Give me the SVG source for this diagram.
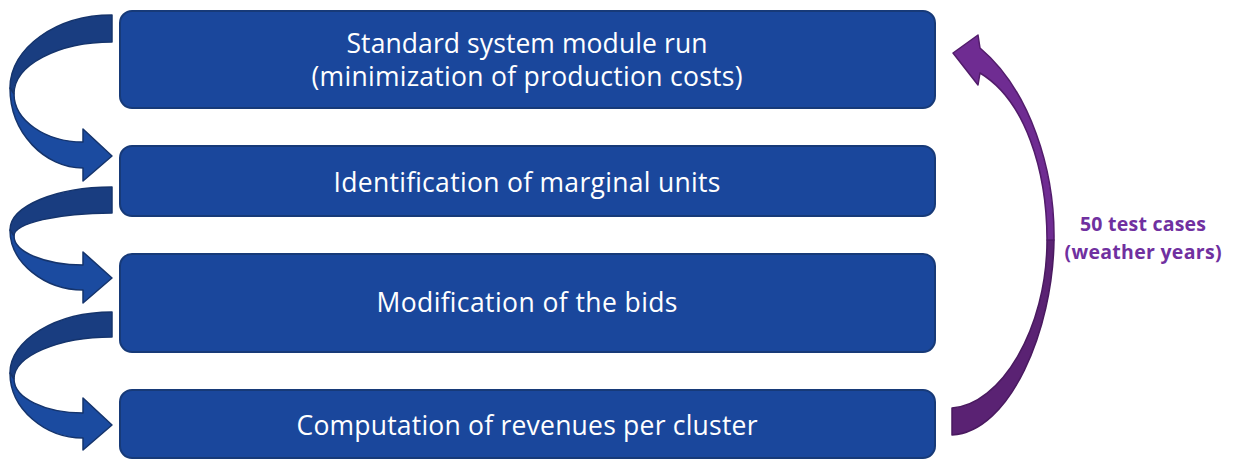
<svg xmlns="http://www.w3.org/2000/svg" width="1233" height="460" viewBox="0 0 1233 460">
<style>
.box{fill:#1a479c;stroke:#173a78;stroke-width:2}
.lbl{font-family:"Open Sans","Liberation Sans",sans-serif;font-size:26.5px;fill:#ffffff;text-anchor:middle}
.side{font-family:"Open Sans","Liberation Sans",sans-serif;font-size:19.5px;font-weight:bold;fill:#7030a0;text-anchor:middle}
.dk{fill:#193d80;stroke:#15346c;stroke-width:1.5;stroke-linejoin:round}
.lt{fill:#1b4ba0;stroke:#15346c;stroke-width:1.5;stroke-linejoin:round}
.pu1{fill:#6f2c92;stroke:#521c6b;stroke-width:1.5;stroke-linejoin:round}
.pu2{fill:#5a2273;stroke:#4a1a60;stroke-width:1.5;stroke-linejoin:round}
</style>
<rect width="1233" height="460" fill="#ffffff"/>
<g id="connectors">
  <g id="loop1">
    <path class="dk" d="M112,15 C56,15 10,48 10,88 L14,94 C14,65 58,42 112,42 Z"/>
    <path class="lt" d="M10,88 C10,133 45,168 83,168 L83,181 L112,156 L83,129 L83,142 C45,142 14,120 14,94 Z"/>
  </g>
  <g id="loop2">
    <path class="dk" d="M112,187 C56,187 10,206 10,230 L14,236 C14,223 58,213 112,213 Z"/>
    <path class="lt" d="M10,230 C10,263 45,290 83,290 L83,303 L112,278 L83,252 L83,265 C45,265 14,252 14,236 Z"/>
  </g>
  <g id="loop3">
    <path class="dk" d="M112,312 C56,312 10,340 10,373 L14,379 C14,356 58,337 112,337 Z"/>
    <path class="lt" d="M10,373 C10,409 45,438 83,438 L83,450 L112,425 L83,398 L83,413 C45,413 14,398 14,379 Z"/>
  </g>
  <g id="repeat">
    <path class="pu2" d="M1054,240 C1053,330 1010,432 952,435 L952,408 C1000,405 1047,330 1047,240 Z"/>
    <path class="pu1" d="M980,48 C1030,90 1055,170 1054,240 L1047,240 C1047,170 1025,100 980,73 L978,85 L953,53 L978,35 Z"/>
  </g>
</g>
<g id="n1">
  <rect class="box" x="120" y="11" width="815" height="97" rx="12"/>
  <text class="lbl" x="527" y="53" textLength="361">Standard system module run</text>
  <text class="lbl" x="527" y="86" textLength="431">(minimization of production costs)</text>
</g>
<g id="n2">
  <rect class="box" x="120" y="146" width="815" height="70" rx="12"/>
  <text class="lbl" x="527" y="192" textLength="387">Identification of marginal units</text>
</g>
<g id="n3">
  <rect class="box" x="120" y="254" width="815" height="98" rx="12"/>
  <text class="lbl" x="527" y="312" textLength="301">Modification of the bids</text>
</g>
<g id="n4">
  <rect class="box" x="120" y="390" width="815" height="68" rx="12"/>
  <text class="lbl" x="527" y="435" textLength="461">Computation of revenues per cluster</text>
</g>
<g id="label">
  <text class="side" x="1143" y="231" textLength="126">50 test cases</text>
  <text class="side" x="1143" y="259" textLength="157">(weather years)</text>
</g>
</svg>
